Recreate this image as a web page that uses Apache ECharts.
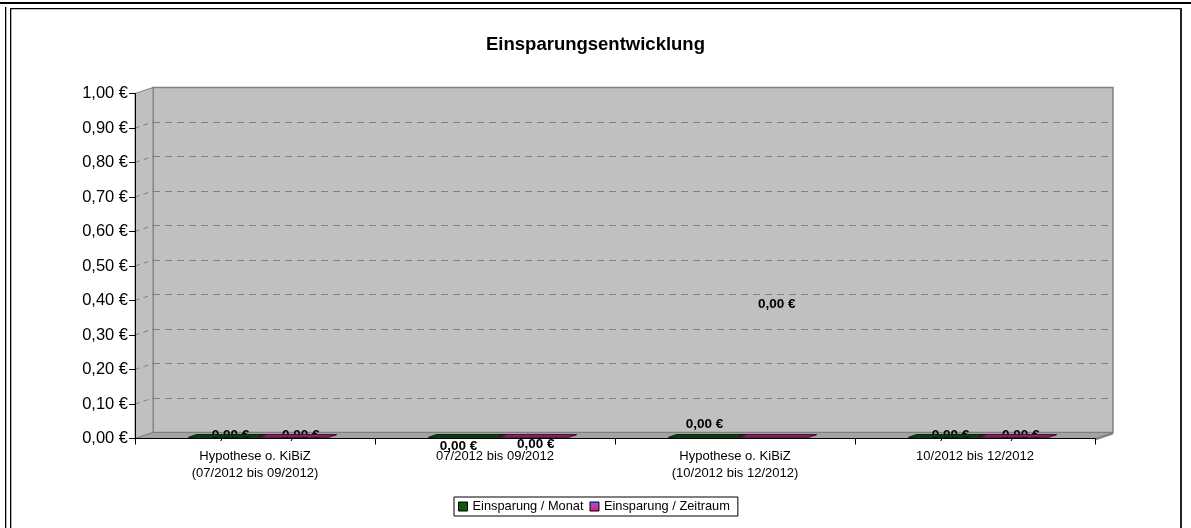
<!DOCTYPE html>
<html><head><meta charset="utf-8">
<script src="https://cdn.jsdelivr.net/npm/echarts@6/dist/echarts.min.js"></script>
<style>html,body{margin:0;padding:0;background:#fff}#c{width:1191px;height:528px}</style>
</head><body><div id="c"></div>
<script>
// ---- data ----
const categories = [
  'Hypothese o. KiBiZ\n(07/2012 bis 09/2012)',
  '07/2012 bis 09/2012',
  'Hypothese o. KiBiZ\n(10/2012 bis 12/2012)',
  '10/2012 bis 12/2012'
];
const seriesNames = ['Einsparung / Monat', 'Einsparung / Zeitraum'];
const monatValues = [0, 0, 0, 0];
const zeitraumValues = [0, 0, 0, 0];
const yMin = 0, yMax = 1, yStep = 0.1;

// ---- label placement quirks (pixel nudges relative to bar top) ----
const labelShiftMonat = [[3, -1], [-9, 10], [-3, -12], [3, -1]];
const labelShiftZeitraum = [[3, -1], [-2, 8], [-1, -132], [3, -1]];

// ---- layout / style ----
const FONT = '"Liberation Sans", Arial, sans-serif';
const FRONT = { left: 135, top: 93.5, width: 960, height: 345 };
const DEPTH = { dx: 18, dy: -6 };
const BAR_FRAC = 0.292, BAR_F1 = 0.2, BAR_F2 = 0.65;
const COLORS = [
  { top: '#0f3f0f', edge: '#002000', side: '#002a00', front: '#006600' },
  { top: '#7e2d66', edge: '#4a0034', side: '#5a1040', front: '#993366' }
];

function fmtEuro(v) { return v.toFixed(2).replace('.', ',') + ' €'; }

function makeRender(sIdx, shifts) {
  const col = COLORS[sIdx];
  return function (params, api) {
    const cat = api.value(0), val = api.value(1);
    const base = api.coord([cat, 0]);
    const top = api.coord([cat, val]);
    const band = api.size([1, 0])[0];
    const w = band * BAR_FRAC;
    const fx = base[0] - w + sIdx * w;
    const x0 = fx + DEPTH.dx * BAR_F1, y0 = base[1] + DEPTH.dy * BAR_F1;
    const yt = top[1] + DEPTH.dy * BAR_F1;
    const ddx = DEPTH.dx * (BAR_F2 - BAR_F1), ddy = DEPTH.dy * (BAR_F2 - BAR_F1);
    const sh = shifts[params.dataIndex];
    const cx = x0 + w / 2 + ddx / 2, cy = yt + ddy / 2;
    return {
      type: 'group',
      children: [
        { type: 'text', x: cx + sh[0], y: cy + sh[1],
          style: { text: fmtEuro(val), fill: '#000', font: 'bold 13.5px ' + FONT,
                   align: 'center', verticalAlign: 'middle', textAlign: 'center', textVerticalAlign: 'middle' } },
        { type: 'rect', shape: { x: x0, y: yt, width: w, height: Math.max(y0 - yt, 0) },
          style: { fill: col.front } },
        { type: 'polygon', shape: { points: [[x0 + w, yt], [x0 + w + ddx, yt + ddy], [x0 + w + ddx, y0 + ddy], [x0 + w, y0]] },
          style: { fill: col.side } },
        { type: 'polygon', shape: { points: [[x0, yt], [x0 + w, yt], [x0 + w + ddx, yt + ddy], [x0 + ddx, yt + ddy]] },
          style: { fill: col.top, stroke: col.edge, lineWidth: 1 } }
      ]
    };
  };
}

const chart = echarts.init(document.getElementById('c'), null, { renderer: 'canvas' });

const option = {
  animation: false,
  backgroundColor: '#fff',
  textStyle: { fontFamily: FONT },
  title: {
    text: 'Einsparungsentwicklung', left: 'center', top: 30,
    textStyle: { fontFamily: FONT, fontSize: 18.5, fontWeight: 'bold', color: '#000' }
  },
  legend: {
    data: seriesNames.map(n => ({ name: n, icon: 'rect' })),
    left: 454, top: 497,
    itemWidth: 9, itemHeight: 9, itemGap: 6,
    padding: [3, 8, 3, 4],
    borderColor: '#000', borderWidth: 1,
    itemStyle: { borderColor: '#000', borderWidth: 1 },
    textStyle: { fontFamily: FONT, fontSize: 12.8, color: '#000' },
    selectedMode: false
  },
  grid: [
    { left: FRONT.left, top: FRONT.top, width: FRONT.width, height: FRONT.height, show: false },
    { left: FRONT.left + DEPTH.dx, top: FRONT.top + DEPTH.dy, width: FRONT.width, height: FRONT.height,
      show: true, backgroundColor: '#c0c0c0', borderColor: '#808080', borderWidth: 1.5 }
  ],
  xAxis: [
    { type: 'category', gridIndex: 0, data: categories, z: 6,
      axisLine: { show: true, lineStyle: { color: '#000', width: 1 } },
      axisTick: { show: true, length: 6, lineStyle: { color: '#000' } },
      axisLabel: { color: '#000', fontSize: 13, fontFamily: FONT, lineHeight: 16.5, margin: 10, interval: 0 } },
    { type: 'category', gridIndex: 1, data: categories, show: false }
  ],
  yAxis: [
    { type: 'value', gridIndex: 0, min: yMin, max: yMax, interval: yStep, z: 6,
      axisLine: { show: true, lineStyle: { color: '#000', width: 1 } },
      axisTick: { show: true, length: 6, lineStyle: { color: '#000' } },
      splitLine: { show: false },
      axisLabel: { color: '#000', fontSize: 16.5, fontFamily: FONT, margin: 7, formatter: fmtEuro } },
    { type: 'value', gridIndex: 1, min: yMin, max: yMax, interval: yStep,
      axisLine: { show: false }, axisTick: { show: false }, axisLabel: { show: false },
      splitLine: { show: true, lineStyle: { color: '#808080', type: [7, 5], width: 1 } } }
  ],
  series: [
    { name: seriesNames[0], type: 'custom', xAxisIndex: 0, yAxisIndex: 0, z: 4,
      itemStyle: { color: '#0a5a0a' },
      renderItem: makeRender(0, labelShiftMonat),
      data: monatValues.map((v, i) => [i, v]) },
    { name: seriesNames[1], type: 'custom', xAxisIndex: 0, yAxisIndex: 0, z: 4,
      itemStyle: { color: new echarts.graphic.LinearGradient(0, 0, 0, 1, [
        { offset: 0, color: '#6a6aff' }, { offset: 1, color: '#ff1060' }]) },
      renderItem: makeRender(1, labelShiftZeitraum),
      data: zeitraumValues.map((v, i) => [i, v]) }
  ]
};
chart.setOption(option);

// ---- 3D decoration: side wall, floor, frame ----
function yPix(v) { return chart.convertToPixel({ yAxisIndex: 0 }, v); }
const xl = FRONT.left, xr = FRONT.left + FRONT.width;
const y0 = yPix(yMin), y1 = yPix(yMax);
const deco = [];
deco.push({ type: 'polygon', z: 1, shape: { points: [[xl, y0], [xl, y1], [xl + DEPTH.dx, y1 + DEPTH.dy], [xl + DEPTH.dx, y0 + DEPTH.dy]] },
  style: { fill: '#c0c0c0', stroke: '#808080', lineWidth: 1 } });
for (let v = yMin + yStep; v < yMax - 1e-9; v += yStep) {
  const y = yPix(v);
  deco.push({ type: 'line', z: 2, shape: { x1: xl, y1: y, x2: xl + DEPTH.dx, y2: y + DEPTH.dy },
    style: { stroke: '#808080', lineWidth: 1, lineDash: [5, 4] } });
}
// floor
deco.push({ type: 'polygon', z: 2, shape: { points: [[xl, y0], [xl + DEPTH.dx, y0 + DEPTH.dy], [xr + DEPTH.dx, y0 + DEPTH.dy], [xr, y0]] },
  style: { fill: '#a4a4a4', stroke: '#808080', lineWidth: 1 } });
deco.push({ type: 'polygon', z: 2, shape: { points: [[xr, y0], [xr + DEPTH.dx, y0 + DEPTH.dy], [xr + DEPTH.dx, y0 + DEPTH.dy + 2], [xr, y0 + 2]] },
  style: { fill: '#808080' } });
// outer frame
deco.push({ type: 'rect', z: 10, shape: { x: 0, y: 2, width: 1191, height: 2 }, style: { fill: '#000' } });
deco.push({ type: 'rect', z: 10, shape: { x: 5, y: 7, width: 1.3, height: 521 }, style: { fill: '#000' } });
deco.push({ type: 'rect', z: 10, shape: { x: 10, y: 8, width: 1.3, height: 520 }, style: { fill: '#000' } });
deco.push({ type: 'rect', z: 10, shape: { x: 10, y: 8, width: 1172, height: 1.3 }, style: { fill: '#000' } });
deco.push({ type: 'rect', z: 10, shape: { x: 1180, y: 8, width: 2, height: 520 }, style: { fill: '#222' } });
chart.setOption({ graphic: { elements: deco } });
</script>
</body></html>
